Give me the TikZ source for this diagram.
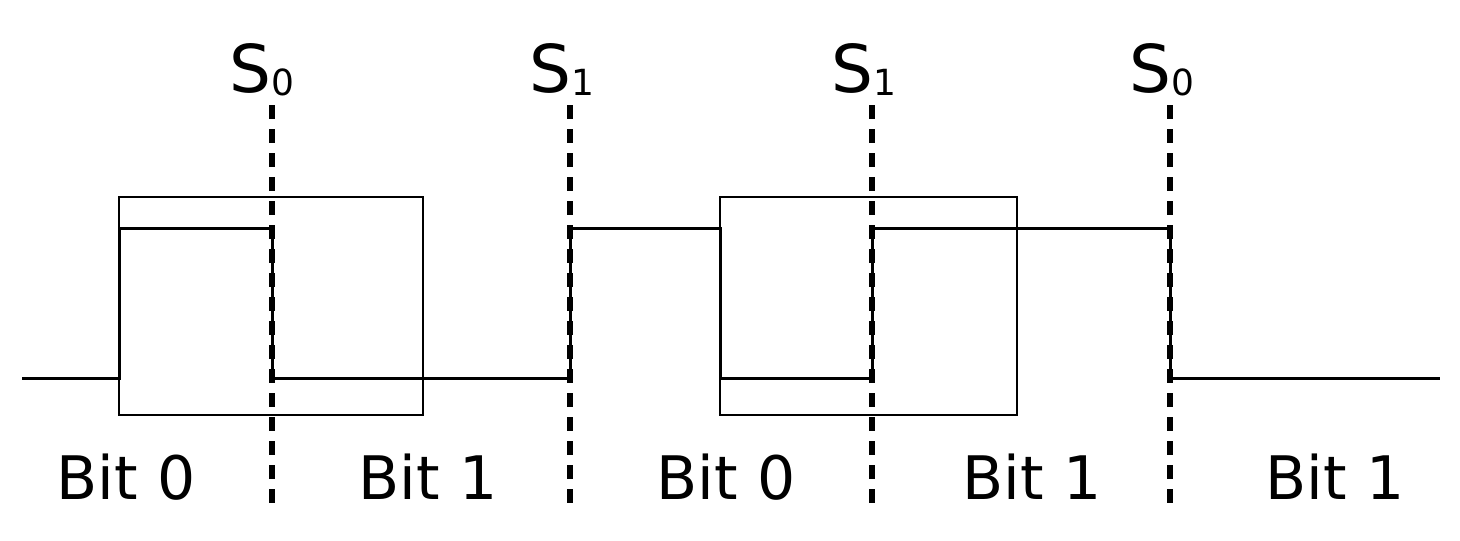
\documentclass[tikz,border=0pt]{standalone}
\usepackage{fontspec}
\setmainfont{DejaVu Sans}
\begin{document}
\begin{tikzpicture}[x=1pt,y=-1pt,
  sig/.style={line width=3pt},
  box/.style={line width=2.5pt},
  sep/.style={line width=6pt,dash pattern=on 14pt off 10pt},
  lab/.style={font=\fontsize{60}{60}\selectfont,inner sep=0pt},
  st/.style={font=\fontsize{66}{66}\selectfont,inner sep=0pt}]
\useasboundingbox (0,0) rectangle (1460,541);
\newcommand{\sub}[1]{\raisebox{-3pt}{\fontsize{36}{36}\selectfont #1}}
\draw[box] (119,197) rectangle (423,415);
\draw[box] (720,197) rectangle (1017,415);
\coordinate (s0) at (22,378);
\draw[sig] (s0) -- (119,378) -- (119,228) -- (272,228) -- (272,378) -- (570,378) -- (570,228) -- (720,228) -- (720,378) -- (872,378) -- (872,228) -- (1170,228) -- (1170,378) -- (1440,378);
\foreach \x/\n in {272/a,570/b,872/c,1170/d}{
  \coordinate (t\n) at (\x,105); \coordinate (b\n) at (\x,505);
  \draw[sep] (t\n) -- (b\n);}
\node[st] (l1) at (262,70) {S\sub{0}};
\node[st] (l2) at (562,70) {S\sub{1}};
\node[st] (l3) at (864,70) {S\sub{1}};
\node[st] (l4) at (1162,70) {S\sub{0}};
\node[lab] (b1) at (126,477) {Bit 0};
\node[lab] (b2) at (428,477) {Bit 1};
\node[lab] (b3) at (726,477) {Bit 0};
\node[lab] (b4) at (1032,477) {Bit 1};
\node[lab] (b5) at (1335,477) {Bit 1};
\end{tikzpicture}
\end{document}
